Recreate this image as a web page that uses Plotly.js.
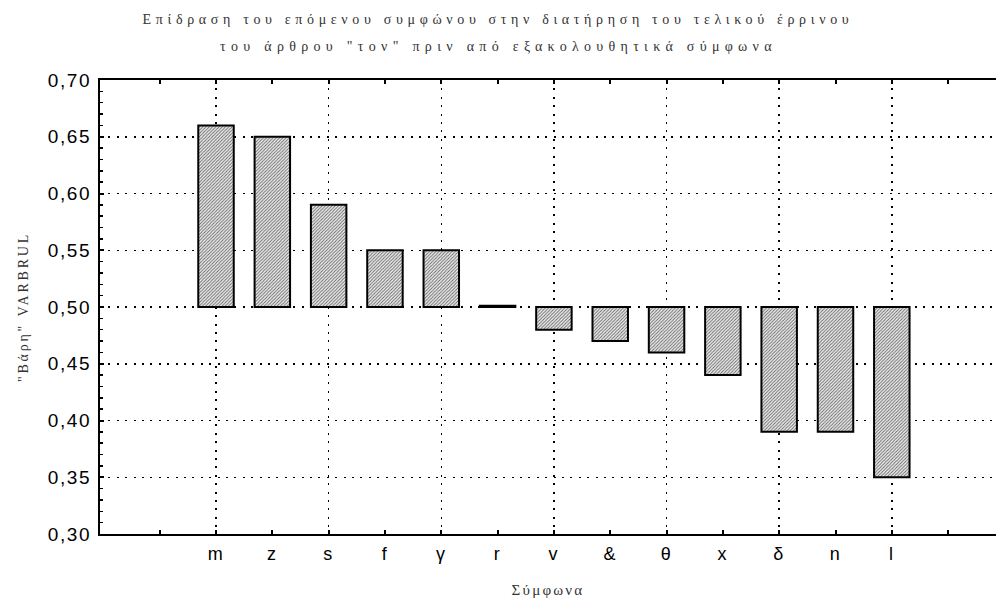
<!DOCTYPE html>
<html>
<head>
<meta charset="utf-8">
<script src="https://cdn.plot.ly/plotly-3.0.1.min.js"></script>
<style>
  html, body { margin: 0; padding: 0; background: #fff; }
  #chart { width: 996px; height: 601px; }
  .gtitle { letter-spacing: 4.65px; }
  .annotation-text { letter-spacing: 5.3px; }
  .ytitle { letter-spacing: 2.8px; }
  .xtitle { letter-spacing: 2.2px; }
  .xtick text, .ytick text { letter-spacing: 1.6px; }
</style>
</head>
<body>
<div id="chart"></div>
<script>
// ---- data ----
const categories = ["m", "z", "s", "f", "γ", "r", "v", "&", "θ", "x", "δ", "n", "l"];
const weights = [0.66, 0.65, 0.59, 0.55, 0.55, 0.501, 0.48, 0.47, 0.46, 0.44, 0.39, 0.39, 0.35];
const baseline = 0.5;
const titleLine1 = "Επίδραση του επόμενου συμφώνου στην διατήρηση του τελικού έρρινου";
const titleLine2 = "του άρθρου \"τον\" πριν από εξακολουθητικά σύμφωνα";
const xTitle = "Σύμφωνα";
const yTitle = "\"Βάρη\" VARBRUL";

// ---- derived positions (category index) ----
const idx = categories.map((c, i) => i);
const tickVals = [-1].concat(idx, [categories.length]);
const tickText = [""].concat(categories, [""]);
const gridVals = idx.filter(i => i % 2 === 0);

const serif = "Liberation Serif, Times New Roman, serif";
const sans = "Liberation Sans, Arial, sans-serif";

const trace = {
  type: "bar",
  x: idx,
  y: weights.map(v => v - baseline),
  base: baseline,
  width: 0.63,
  marker: {
    color: "#d8d8d8",
    line: { color: "#000", width: 2 },
    pattern: { shape: "/", size: 2.3, solidity: 0.4, fgcolor: "#666", bgcolor: "#efefef" }
  },
  hoverinfo: "skip"
};

const layout = {
  width: 996,
  height: 601,
  margin: { l: 100, r: 0, t: 80, b: 67 },
  paper_bgcolor: "#fff",
  plot_bgcolor: "#fff",
  showlegend: false,
  separators: ",.",
  title: {
    text: titleLine1,
    font: { family: serif, size: 14, color: "#333" },
    xref: "container", x: 0.5, xanchor: "center",
    yref: "container", y: 1 - 19 / 601, yanchor: "middle"
  },
  annotations: [{
    text: titleLine2,
    showarrow: false,
    xref: "paper", x: (498 - 100) / 896, xanchor: "center",
    yref: "paper", y: (534 - 46) / 454, yanchor: "middle",
    font: { family: serif, size: 14, color: "#333" }
  }],
  xaxis: {
    type: "linear",
    range: [-2.06, 13.85],
    tickmode: "array",
    tickvals: tickVals,
    ticktext: tickText,
    ticks: "inside",
    ticklen: 4,
    tickwidth: 2,
    tickcolor: "#000",
    showgrid: false,
    zeroline: false,
    showline: true,
    linecolor: "#000",
    linewidth: 2,
    mirror: "ticks",
    tickfont: { family: sans, size: 18, color: "#000" },
    ticklabelstandoff: 2,
    minor: {
      tickmode: "array",
      tickvals: gridVals,
      ticks: "",
      showgrid: true,
      gridcolor: "#000",
      gridwidth: 1.5,
      griddash: "2px,6.4px"
    },
    title: {
      text: xTitle,
      font: { family: serif, size: 15, color: "#333" },
      standoff: 22
    }
  },
  yaxis: {
    range: [0.30, 0.70],
    tick0: 0.30,
    dtick: 0.05,
    tickformat: ".2f",
    ticks: "inside",
    ticklen: 4,
    tickwidth: 2,
    tickcolor: "#000",
    showgrid: true,
    gridcolor: "#000",
    gridwidth: 1.5,
    griddash: "2px,6.4px",
    zeroline: false,
    showline: true,
    linecolor: "#000",
    linewidth: 2,
    mirror: false,
    tickfont: { family: sans, size: 19, color: "#000" },
    ticklabelstandoff: 3,
    minor: {
      dtick: 0.01,
      tick0: 0.30,
      ticks: "inside",
      ticklen: 3,
      tickwidth: 1.5,
      tickcolor: "#000",
      showgrid: false
    },
    title: {
      text: yTitle,
      font: { family: serif, size: 14, color: "#333" },
      standoff: 16
    }
  }
};

Plotly.newPlot("chart", [trace], layout, { displayModeBar: false, staticPlot: true });
</script>
</body>
</html>
